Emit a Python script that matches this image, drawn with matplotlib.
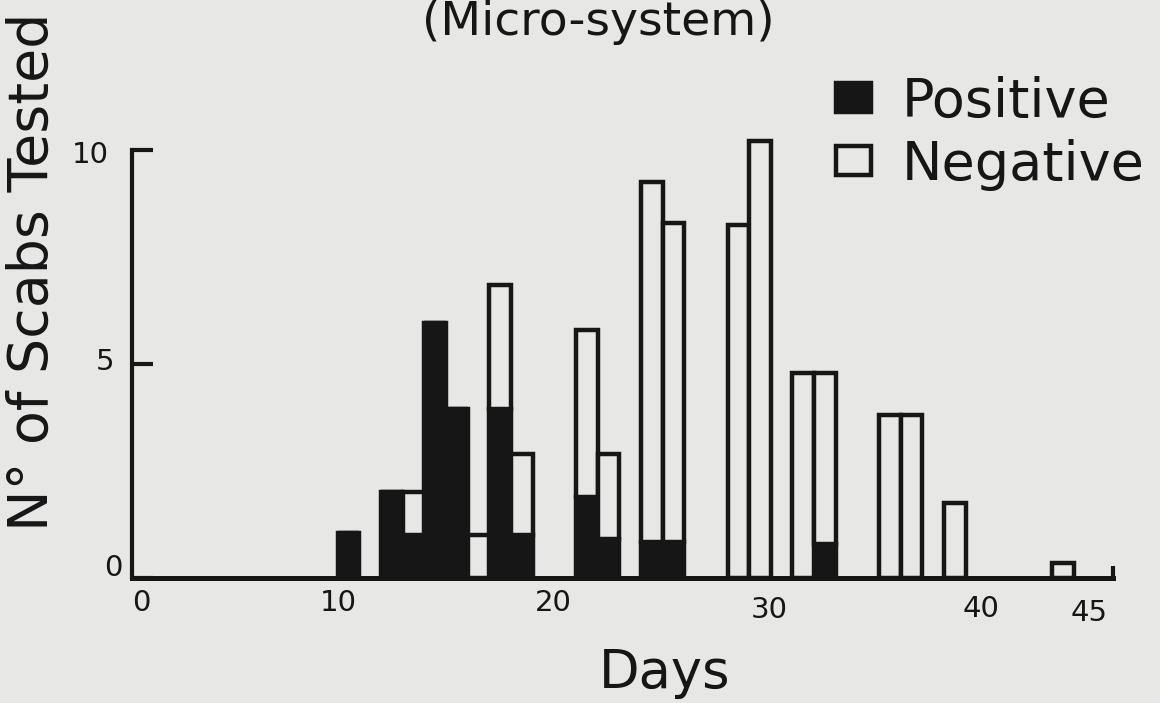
import matplotlib
matplotlib.use("Agg")
import matplotlib.pyplot as plt
from matplotlib.transforms import ScaledTranslation

# ---- data ----
days = [10, 12, 13, 14, 15, 16, 17, 18, 21, 22, 24, 25, 28, 29, 31, 32, 35, 36, 38, 43]
positive = [1.05, 2.0, 1.0, 5.95, 3.95, 0, 3.95, 1.0, 1.9, 0.9, 0.85, 0.85,
            0, 0, 0, 0.8, 0, 0, 0, 0]
negative = [0, 0, 1.0, 0, 0, 1.0, 2.9, 1.9, 3.9, 2.0, 8.4, 7.45,
            8.25, 10.2, 4.8, 4.0, 3.8, 3.8, 1.75, 0.35]
x_ticks = [0, 10, 20, 30, 40, 45]
y_ticks = [0, 5, 10]
series_labels = ["Positive", "Negative"]
title = "(Micro-system)"
xlabel = "Days"
ylabel = "N° of Scabs Tested"

# ---- style ----
BG = "#e7e7e5"
INK = "#161616"
W, H = 1160, 703
X_LEFT, X_RIGHT = 132, 1113
Y_ZERO, PX_PER_UNIT = 578, 42.8
XMAX, YMAX = 45.3, 10.5

fig = plt.figure(figsize=(W / 100, H / 100), dpi=100, facecolor=BG)
top_px = Y_ZERO - YMAX * PX_PER_UNIT
ax = fig.add_axes([X_LEFT / W, (H - Y_ZERO) / H, (X_RIGHT - X_LEFT) / W, (Y_ZERO - top_px) / H])
ax.set_facecolor("none")
ax.set_xlim(0, XMAX)
ax.set_ylim(0, YMAX)

b1 = ax.bar(days, positive, width=1.0, color=INK, edgecolor=INK, linewidth=3.2,
            label=series_labels[0], zorder=3)
b2 = ax.bar(days, negative, bottom=positive, width=1.0, color=BG, edgecolor=INK,
            linewidth=3.2, label=series_labels[1], zorder=3)

for s in ("top", "right"):
    ax.spines[s].set_visible(False)
ax.spines["left"].set_bounds(0, 10)
ax.spines["left"].set_linewidth(3)
ax.spines["bottom"].set_linewidth(3.6)
ax.spines["left"].set_color(INK)
ax.spines["bottom"].set_color(INK)
ax.spines["bottom"].set_zorder(4)

tick_font = dict(family="DejaVu Sans", size=21, color=INK)
ax.set_yticks(y_ticks)
ax.set_yticklabels([str(v) for v in y_ticks], fontdict=tick_font)
ax.tick_params(axis="y", direction="in", length=15, width=3, color=INK, pad=13)
ax.set_xticks(x_ticks)
ax.set_xticklabels([str(v) for v in x_ticks], fontdict=tick_font)
ax.tick_params(axis="x", which="major", length=0, pad=8)
ax.set_xticks([40, XMAX], minor=True)
ax.tick_params(axis="x", which="minor", direction="in", length=9, width=3, color=INK)

# fine placement of the hand-lettered tick labels
x_off = [(9, 0), (-10, 0), (-12, 0), (-12, -7), (-17, -6), (-17, -10)]
for lab, (dx, dy) in zip(ax.get_xticklabels(), x_off):
    lab.set_transform(lab.get_transform() + ScaledTranslation(dx / 100, dy / 100, fig.dpi_scale_trans))
y_off = [(9, 13), (0, 5), (-5, -2)]
for lab, (dx, dy) in zip(ax.get_yticklabels(), y_off):
    lab.set_transform(lab.get_transform() + ScaledTranslation(dx / 100, dy / 100, fig.dpi_scale_trans))

big = dict(family="DejaVu Sans", color=INK)
fig.text(598 / W, 1 - 35 / H, title, ha="center", va="baseline", fontsize=34, **big)
fig.text(665 / W, (H - 688) / H, xlabel, ha="center", va="baseline", fontsize=38, **big)
fig.text(33 / W, 1 - 272 / H, ylabel, ha="center", va="center", rotation=90, fontsize=40, **big)

leg = fig.legend(handles=[b1, b2], labels=series_labels, loc="upper left",
                 bbox_to_anchor=(836 / W, 1 - 76 / H), frameon=False,
                 prop=dict(family="DejaVu Sans", size=39), handlelength=0.64,
                 handleheight=0.46, handletextpad=0.58, labelspacing=0.2,
                 borderpad=0, borderaxespad=0)
for t in leg.get_texts():
    t.set_color(INK)

fig.savefig("out.png", dpi=100, facecolor=BG)
